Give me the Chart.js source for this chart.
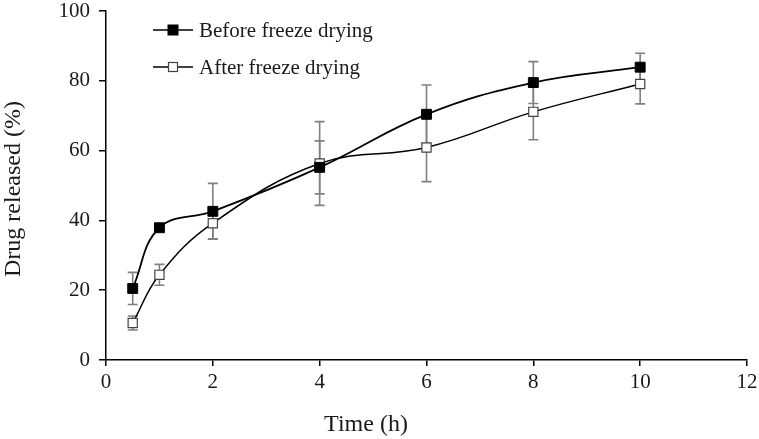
<!DOCTYPE html>
<html>
<head>
<meta charset="utf-8">
<script src="https://cdn.jsdelivr.net/npm/chart.js@4.4.1/dist/chart.umd.min.js"></script>
<style>
  html, body { margin: 0; padding: 0; background: #fff; }
  #wrap { width: 759px; height: 439px; }
</style>
</head>
<body>
<div id="wrap"><canvas id="c" width="759" height="439"></canvas></div>
<script>
const times = [0.5, 1, 2, 4, 6, 8, 10];
const beforeValues = [20.5, 37.9, 42.6, 55.2, 70.4, 79.5, 83.9];
const beforeErrors = [4.6, 0.8, 8.0, 7.6, 8.4, 6.0, 4.0];
const afterValues = [10.6, 24.4, 39.2, 56.3, 60.9, 71.1, 79.1];
const afterErrors = [2.0, 3.0, 4.5, 12.0, 9.8, 8.0, 5.7];
const seriesNames = ['Before freeze drying', 'After freeze drying'];
const xTicks = [0, 2, 4, 6, 8, 10, 12];
const yTicks = [0, 20, 40, 60, 80, 100];
const xTitle = 'Time (h)';
const yTitle = 'Drug released (%)';

const FONT = '"Liberation Serif", "Times New Roman", serif';

const errorBarPlugin = {
  id: 'errorBars',
  beforeDatasetsDraw(chart) {
    const ctx = chart.ctx;
    const xs = chart.scales.x, ys = chart.scales.y;
    ctx.save();
    ctx.strokeStyle = '#808080';
    ctx.lineWidth = 1.6;
    chart.data.datasets.forEach(ds => {
      ds.data.forEach((p, i) => {
        const e = ds.errors[i];
        const px = xs.getPixelForValue(p.x);
        const top = ys.getPixelForValue(p.y + e);
        const bot = ys.getPixelForValue(p.y - e);
        ctx.beginPath();
        ctx.moveTo(px, top); ctx.lineTo(px, bot);
        ctx.moveTo(px - 5, top); ctx.lineTo(px + 5, top);
        ctx.moveTo(px - 5, bot); ctx.lineTo(px + 5, bot);
        ctx.stroke();
      });
    });
    ctx.restore();
  }
};

const decorPlugin = {
  id: 'decor',
  afterDraw(chart) {
    const ctx = chart.ctx;
    const ca = chart.chartArea;
    ctx.save();
    // axis titles
    ctx.fillStyle = '#1a1a1a';
    ctx.font = '24px ' + FONT;
    ctx.textAlign = 'center';
    ctx.textBaseline = 'middle';
    ctx.fillText(xTitle, ca.left + 260, ca.bottom + 65);
    ctx.save();
    ctx.translate(ca.left - 92, ca.top + 178);
    ctx.rotate(-Math.PI / 2);
    ctx.fillText(yTitle, 0, 0);
    ctx.restore();
    // legend
    const lx0 = ca.left + 47, lx1 = ca.left + 87, lmx = ca.left + 67;
    const rows = [ca.top + 19, ca.top + 56];
    ctx.font = '21px ' + FONT;
    ctx.textAlign = 'left';
    chart.data.datasets.forEach((ds, i) => {
      const y = rows[i];
      ctx.strokeStyle = '#000';
      ctx.lineWidth = 1.6;
      ctx.beginPath(); ctx.moveTo(lx0, y); ctx.lineTo(lx1, y); ctx.stroke();
      const s = ds.legendSize;
      ctx.fillStyle = ds.pointBackgroundColor;
      ctx.fillRect(lmx - s / 2, y - s / 2, s, s);
      ctx.strokeStyle = ds.pointBorderColor;
      ctx.lineWidth = ds.pointBorderWidth;
      ctx.strokeRect(lmx - s / 2, y - s / 2, s, s);
      ctx.fillStyle = '#1a1a1a';
      ctx.fillText(ds.label, ca.left + 93, y + 1);
    });
    ctx.restore();
  }
};

new Chart(document.getElementById('c'), {
  type: 'line',
  data: {
    datasets: [
      {
        label: seriesNames[0],
        data: times.map((t, i) => ({ x: t, y: beforeValues[i] })),
        errors: beforeErrors,
        borderColor: '#000',
        borderWidth: 1.8,
        tension: 0.4,
        pointStyle: 'rect',
        pointRadius: 7,
        pointBackgroundColor: '#000',
        pointBorderColor: '#000',
        pointBorderWidth: 1,
        legendSize: 10
      },
      {
        label: seriesNames[1],
        data: times.map((t, i) => ({ x: t, y: afterValues[i] })),
        errors: afterErrors,
        borderColor: '#000',
        borderWidth: 1.5,
        tension: 0.4,
        pointStyle: 'rect',
        pointRadius: 6.5,
        pointBackgroundColor: '#fff',
        pointBorderColor: '#444',
        pointBorderWidth: 1.2,
        legendSize: 9
      }
    ]
  },
  plugins: [errorBarPlugin, decorPlugin],
  options: {
    responsive: false,
    animation: false,
    layout: { padding: { left: 0, top: 11, right: 12, bottom: 0 } },
    plugins: { legend: { display: false }, tooltip: { enabled: false } },
    scales: {
      x: {
        type: 'linear',
        min: 0, max: 12,
        afterBuildTicks: s => { s.ticks = xTicks.map(v => ({ value: v })); },
        afterFit: s => { s.height = 79; s.paddingLeft = 0; s.paddingRight = 0; },
        grid: { display: true, drawOnChartArea: false, drawTicks: true, tickLength: 6, color: '#000', lineWidth: 1.5 },
        border: { display: true, color: '#000', width: 1.5 },
        ticks: { color: '#1a1a1a', font: { family: FONT, size: 21 }, padding: 4, maxRotation: 0 }
      },
      y: {
        type: 'linear',
        min: 0, max: 100,
        afterBuildTicks: s => { s.ticks = yTicks.map(v => ({ value: v })); },
        afterFit: s => { s.width = 106; s.paddingTop = 0; s.paddingBottom = 0; },
        grid: { display: true, drawOnChartArea: false, drawTicks: true, tickLength: 7, color: '#000', lineWidth: 1.5 },
        border: { display: true, color: '#000', width: 1.5 },
        ticks: { color: '#1a1a1a', font: { family: FONT, size: 21 }, padding: 9 }
      }
    }
  }
});
</script>
</body>
</html>
